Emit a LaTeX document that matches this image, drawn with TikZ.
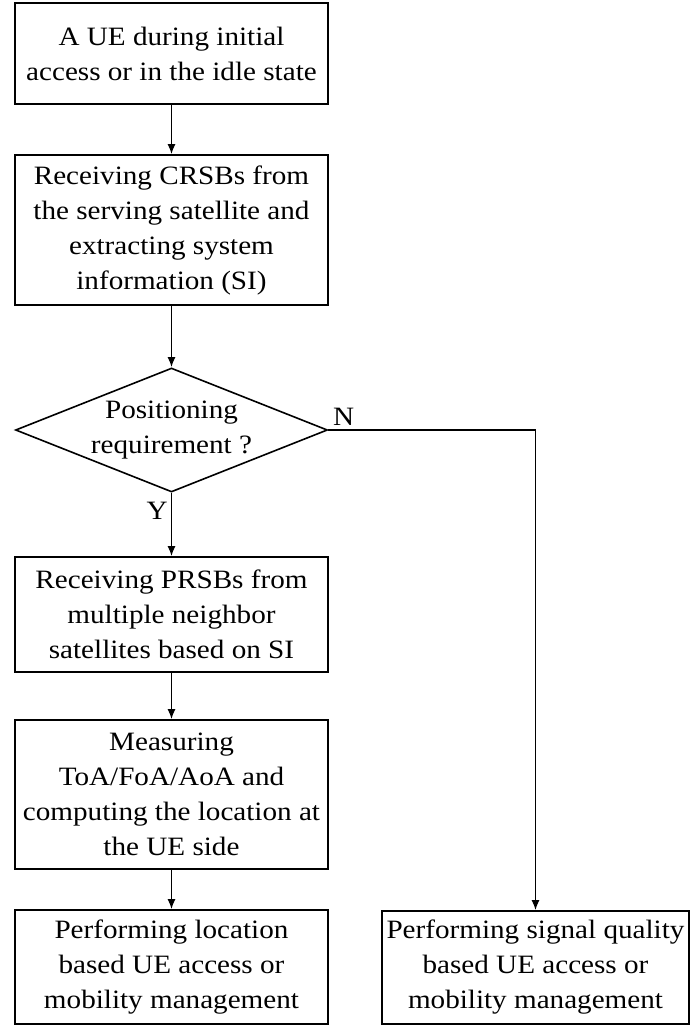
\documentclass[tikz,border=0pt]{standalone}
\usepackage{fontspec}
\setmainfont{Liberation Serif}[FakeStretch=1.1]
\usetikzlibrary{arrows.meta}
\usetikzlibrary{shapes.geometric}

\begin{document}
\begin{tikzpicture}[x=1bp,y=-1bp,
	font=\fontsize{26.5bp}{35bp}\selectfont,
	flowbox/.style={draw,line width=1.6bp,align=center,inner sep=0pt,minimum width=313bp},
	decide/.style={draw,diamond,line width=1.6bp,align=center,inner sep=0pt,aspect=2.5,minimum width=312bp,minimum height=124bp},
	flow/.style={line width=1.6bp,-{Latex[length=10bp,width=8bp]}}]
	\useasboundingbox (0,0) rectangle (690,1026);

	\node[flowbox,minimum height=101bp] (start) at (171.5,53.5) {A UE during initial\\access or in the idle state};
	\node[flowbox,minimum height=150bp] (crsb) at (171.5,230) {Receiving CRSBs from\\the serving satellite and\\extracting system\\information (SI)};
	\node[decide] (posq) at (171.5,430) {Positioning\\requirement ?};
	\node[flowbox,minimum height=115bp] (prsb) at (171.5,614.5) {Receiving PRSBs from\\multiple neighbor\\satellites based on SI};
	\node[flowbox,minimum height=149bp] (meas) at (171.5,794.5) {Measuring\\ToA/FoA/AoA and\\computing the location at\\the UE side};
	\node[flowbox,minimum height=114bp] (locmm) at (171.5,967) {Performing location\\based UE access or\\mobility management};
	\node[flowbox,minimum height=113bp,minimum width=307bp] (sigmm) at (535.5,967.5) {Performing signal quality\\based UE access or\\mobility management};

	\draw[flow] (start) -- (crsb);
	\draw[flow] (crsb) -- (posq);
	\draw[flow] (posq) -- node[pos=0.28,left,inner sep=3bp] {Y} (prsb);
	\draw[flow] (prsb) -- (meas);
	\draw[flow] (meas) -- (locmm);
	% no branch
	\draw[flow] (posq.east) -| node[pos=0,above right,inner sep=4bp] {N} (sigmm.north);
\end{tikzpicture}
\end{document}
